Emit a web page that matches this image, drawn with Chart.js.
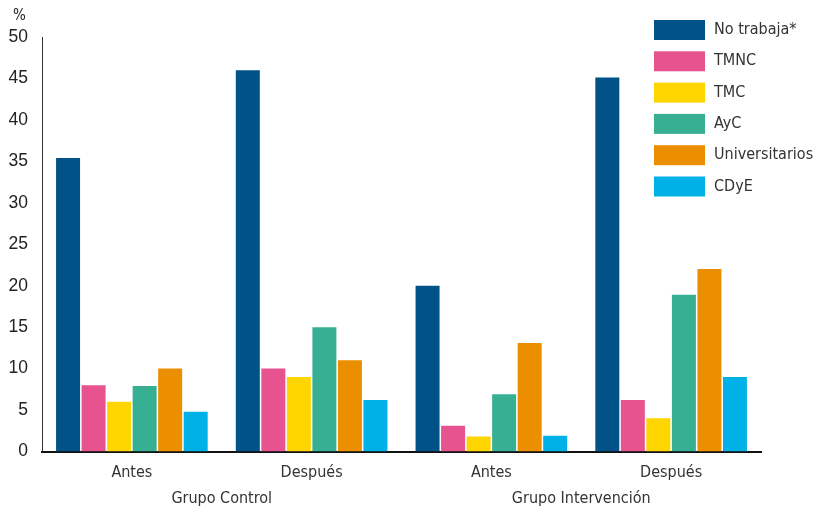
<!DOCTYPE html>
<html>
<head>
<meta charset="utf-8">
<script src="https://cdn.jsdelivr.net/npm/chart.js@4.4.1/dist/chart.umd.min.js"></script>
<style>
  html, body { margin: 0; padding: 0; background: #fff; }
  #wrap { width: 816px; height: 511px; position: relative; }
</style>
</head>
<body>
<div id="wrap"><canvas id="c" width="816" height="511"></canvas></div>
<script>
// Periods and groups shown on the horizontal axis
const periods = ['Antes', 'Después', 'Antes', 'Después'];
const groups = ['Grupo Control', 'Grupo Intervención'];

// Percentage per occupational category (Control antes, Control después, Intervención antes, Intervención después)
const noTrabaja      = [35.4, 46.0, 20.0, 45.1];
const tmnc           = [8.0, 10.0, 3.1, 6.2];
const tmc            = [6.0, 9.0, 1.8, 4.0];
const ayc            = [7.9, 15.0, 6.9, 18.9];
const universitarios = [10.0, 11.0, 13.1, 22.0];
const cdye           = [4.8, 6.2, 1.9, 9.0];

const seriesNames = ['No trabaja*', 'TMNC', 'TMC', 'AyC', 'Universitarios', 'CDyE'];
const seriesValues = [noTrabaja, tmnc, tmc, ayc, universitarios, cdye];
const seriesColors = ['#005288', '#E6538F', '#FFD500', '#37AF92', '#EB8F00', '#00B1E7'];

const yTicks = [0, 5, 10, 15, 20, 25, 30, 35, 40, 45, 50];

const narrow = '"Liberation Sans Narrow", "DejaVu Sans Condensed", "Liberation Sans", sans-serif';
const regular = '"Liberation Sans", Arial, sans-serif';

// Legend stacked at the upper right, drawn on top of the plot
const sideLegend = {
  id: 'sideLegend',
  afterDraw(chart) {
    const ctx = chart.ctx;
    ctx.save();
    ctx.font = '16px ' + narrow;
    ctx.textBaseline = 'middle';
    ctx.textAlign = 'left';
    chart.data.datasets.forEach((ds, i) => {
      const top = 20 + i * 31.3;
      ctx.fillStyle = ds.backgroundColor;
      ctx.fillRect(654, top, 51, 20);
      ctx.fillStyle = '#333';
      ctx.fillText(ds.label, 714, top + 10);
    });
    // unit label above the value axis
    ctx.font = '15px ' + narrow;
    ctx.fillStyle = '#222';
    ctx.textAlign = 'left';
    ctx.textBaseline = 'alphabetic';
    ctx.fillText('%', 13, 20);
    ctx.restore();
  }
};

new Chart(document.getElementById('c'), {
  type: 'bar',
  data: {
    labels: periods,
    datasets: seriesNames.map((name, i) => ({
      label: name,
      data: seriesValues[i],
      backgroundColor: seriesColors[i],
      borderWidth: 0,
      xAxisID: 'x',
      yAxisID: 'y'
    }))
  },
  options: {
    responsive: false,
    animation: false,
    layout: { padding: { top: 37, right: 55, bottom: 0, left: 0 } },
    categoryPercentage: 0.852,
    barPercentage: 0.94,
    plugins: {
      legend: { display: false },
      tooltip: { enabled: false }
    },
    scales: {
      x: {
        position: 'bottom',
        grid: { display: false, drawTicks: false },
        border: { display: true, color: '#111', width: 2 },
        ticks: { color: '#333', font: { family: narrow, size: 16 }, padding: 12 },
        afterFit(scale) { scale.height = 32; }
      },
      x2: {
        type: 'category',
        position: 'bottom',
        labels: groups,
        offset: true,
        grid: { display: false, drawTicks: false },
        border: { display: false },
        ticks: { color: '#333', font: { family: narrow, size: 16 }, padding: 6 },
        afterFit(scale) { scale.height = 27.5; }
      },
      y: {
        min: 0,
        max: 50,
        afterBuildTicks(scale) { scale.ticks = yTicks.map(v => ({ value: v })); },
        grid: { display: false, drawTicks: false },
        border: { display: true, color: '#333', width: 1 },
        ticks: { color: '#222', font: { family: regular, size: 17.5 }, padding: 14 },
        afterFit(scale) { scale.width = 42; }
      }
    }
  },
  plugins: [sideLegend]
});
</script>
</body>
</html>
